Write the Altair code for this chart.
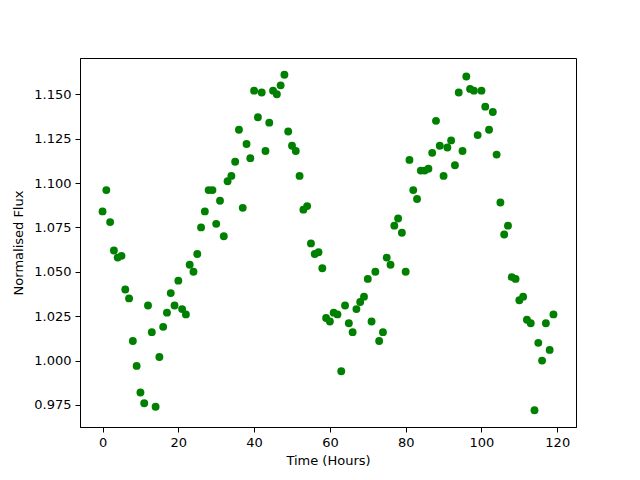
import altair as alt
import pandas as pd

hours = list(range(120))
flux = [
    1.084, 1.096, 1.078, 1.062, 1.058, 1.059, 1.040, 1.035, 1.011, 0.997,
    0.982, 0.976, 1.031, 1.016, 0.974, 1.002, 1.019, 1.027, 1.038, 1.031,
    1.045, 1.029, 1.026, 1.054, 1.050, 1.060, 1.075, 1.084, 1.096, 1.096,
    1.077, 1.090, 1.070, 1.101, 1.104, 1.112, 1.130, 1.086, 1.122, 1.114,
    1.152, 1.137, 1.151, 1.118, 1.134, 1.152, 1.150, 1.155, 1.161, 1.129,
    1.121, 1.118, 1.104, 1.085, 1.087, 1.066, 1.060, 1.061, 1.052, 1.024,
    1.022, 1.027, 1.026, 0.994, 1.031, 1.021, 1.016, 1.029, 1.033, 1.036,
    1.046, 1.022, 1.050, 1.011, 1.016, 1.058, 1.054, 1.076, 1.080, 1.072,
    1.050, 1.113, 1.096, 1.091, 1.107, 1.107, 1.108, 1.117, 1.135, 1.121,
    1.104, 1.120, 1.124, 1.110, 1.151, 1.118, 1.160, 1.153, 1.152, 1.127,
    1.152, 1.143, 1.130, 1.140, 1.116, 1.089, 1.071, 1.076, 1.047, 1.046,
    1.034, 1.036, 1.023, 1.021, 0.972, 1.010, 1.000, 1.021, 1.006, 1.026,
]
x_ticks = [0, 20, 40, 60, 80, 100, 120]
y_ticks = [0.975, 1.000, 1.025, 1.050, 1.075, 1.100, 1.125, 1.150]

df = pd.DataFrame({"hour": hours, "flux": flux})

chart = (
    alt.Chart(df)
    .mark_circle(color="#008000", opacity=1, size=62)
    .encode(
        x=alt.X(
            "hour:Q",
            scale=alt.Scale(domain=[-5.95, 124.95], nice=False, zero=False),
            axis=alt.Axis(values=x_ticks, title="Time (Hours)", format="d"),
        ),
        y=alt.Y(
            "flux:Q",
            scale=alt.Scale(domain=[0.9626, 1.1704], nice=False, zero=False),
            axis=alt.Axis(values=y_ticks, title="Normalised Flux", format=".3f"),
        ),
    )
    .properties(
        width=496,
        height=369,
        autosize=alt.AutoSizeParams(type="none"),
        padding={"left": 72, "top": 50, "right": 56, "bottom": 45},
    )
    .configure_view(stroke="black", strokeWidth=1)
    .configure_axis(
        grid=False,
        domainColor="black",
        domainWidth=1,
        tickColor="black",
        tickSize=5,
        tickWidth=1,
        labelFont="DejaVu Sans",
        labelFontSize=13,
        labelColor="black",
        labelPadding=4,
        titleFont="DejaVu Sans",
        titleFontSize=13,
        titleFontWeight="normal",
        titleColor="black",
    )
    .configure_axisX(titlePadding=5)
    .configure_axisY(titlePadding=8)
)

chart.save("out.html", embed_options={"renderer": "svg", "actions": False})
